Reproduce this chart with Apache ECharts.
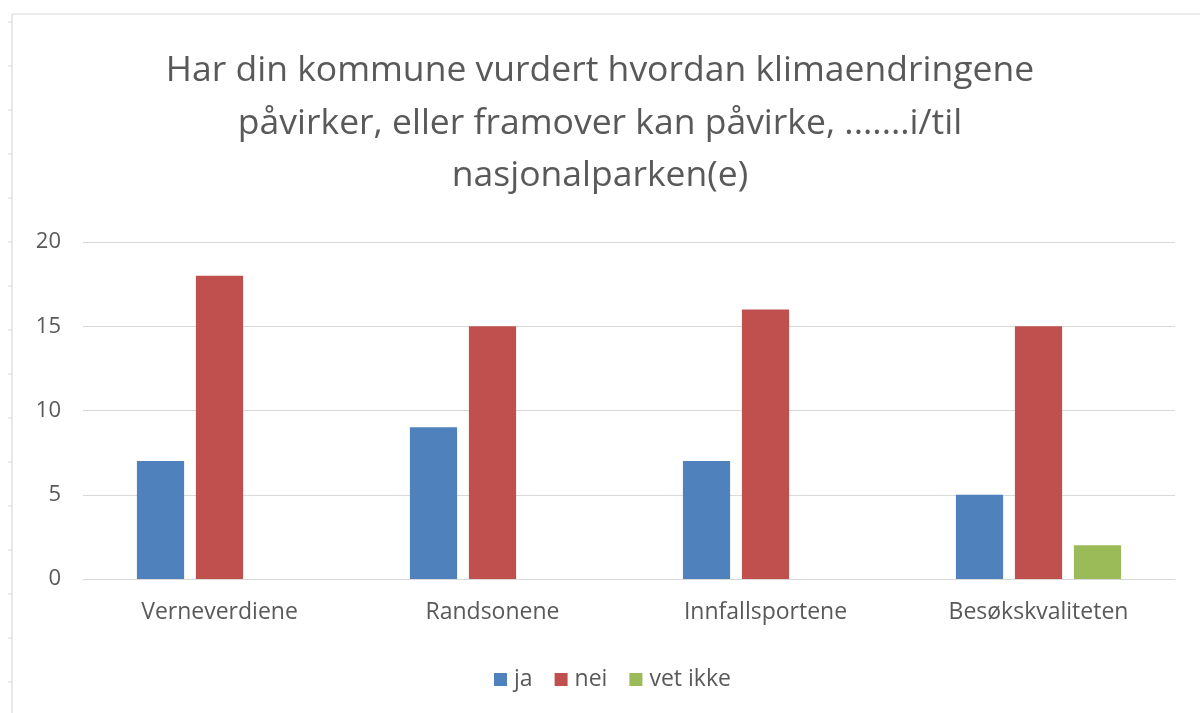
<!DOCTYPE html>
<html><head><meta charset="utf-8">
<script src="https://cdn.jsdelivr.net/npm/echarts@6/dist/echarts.min.js"></script>
<style>html,body{margin:0;padding:0;background:#fff}#c{width:1200px;height:713px}</style>
</head><body><div id="c"></div>
<script>
const titleText = "Har din kommune vurdert hvordan klimaendringene\npåvirker, eller framover kan påvirke, .......i/til\nnasjonalparken(e)";
const categories = ["Verneverdiene", "Randsonene", "Innfallsportene", "Besøkskvaliteten"];
const seriesNames = ["ja", "nei", "vet ikke"];
const ja = [7, 9, 7, 5];
const nei = [18, 15, 16, 15];
const vetIkke = [0, 0, 0, 2];
const yTicks = [0, 5, 10, 15, 20];

const colors = ["#4F81BD", "#C0504D", "#9BBB59"];
const font = "'Open Sans', 'Liberation Sans', sans-serif";
const chart = echarts.init(document.getElementById('c'));
const leftTicks = [];
for (let y = 22; y < 713; y += 44) leftTicks.push({type:'line', shape:{x1:8,y1:y,x2:12,y2:y}, style:{stroke:'#d8d8d8', lineWidth:1}, silent:true});
chart.setOption({
  animation: false,
  color: colors,
  title: {
    text: titleText, left: 'center', top: 40,
    textStyle: {fontFamily: font, fontSize: 35.5, fontWeight: 'normal', color: '#595959', lineHeight: 52.5}
  },
  legend: {
    data: seriesNames, top: 663, left: 489, itemWidth: 13, itemHeight: 13, itemGap: 22,
    icon: 'rect',
    textStyle: {fontFamily: font, fontSize: 23, color: '#595959', padding: [0,0,0,2]}
  },
  grid: {left: 83, right: 25, top: 242, bottom: 134, containLabel: false},
  xAxis: {
    type: 'category', data: categories,
    axisLine: {lineStyle: {color: '#D9D9D9'}}, axisTick: {show: false},
    axisLabel: {fontFamily: font, fontSize: 23, color: '#595959', margin: 22}
  },
  yAxis: {
    type: 'value', min: 0, max: 20, interval: 5,
    axisLine: {show: false}, axisTick: {show: false},
    splitLine: {lineStyle: {color: '#D9D9D9'}},
    axisLabel: {fontFamily: font, fontSize: 22, color: '#595959', margin: 22,
      formatter: v => yTicks.includes(v) ? String(v) : ''}
  },
  series: [
    {name: seriesNames[0], type: 'bar', data: ja, barGap: '25%', barCategoryGap: '39.5%'},
    {name: seriesNames[1], type: 'bar', data: nei, barGap: '25%', barCategoryGap: '39.5%'},
    {name: seriesNames[2], type: 'bar', data: vetIkke, barGap: '25%', barCategoryGap: '39.5%'}
  ],
  graphic: [
    {type:'line', shape:{x1:12,y1:14,x2:12,y2:713}, style:{stroke:'#d0d0d0', lineWidth:1}, silent:true},
    {type:'line', shape:{x1:12,y1:14,x2:1200,y2:14}, style:{stroke:'#d8d8d8', lineWidth:1}, silent:true}
  ].concat(leftTicks)
});
</script></body></html>
